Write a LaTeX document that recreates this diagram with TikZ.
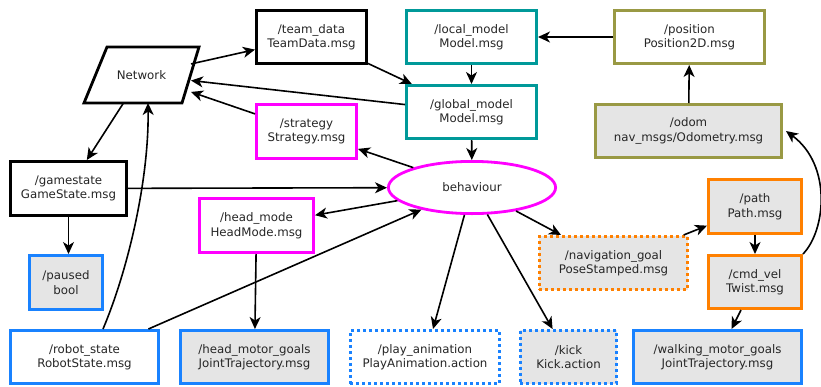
\documentclass[tikz,border=0pt]{standalone}
\usepackage{fontspec}
\setmainfont{DejaVu Sans}
\usetikzlibrary{shapes.geometric,arrows.meta}
\definecolor{cteal}{RGB}{0,153,153}
\definecolor{colive}{RGB}{153,153,68}
\definecolor{cmag}{RGB}{255,0,255}
\definecolor{cblue}{RGB}{25,130,255}
\definecolor{corange}{RGB}{255,128,0}
\definecolor{cgray}{RGB}{229,229,229}
\begin{document}
\begin{tikzpicture}[x=1pt,y=-1pt,
  txt/.style={font=\fontsize{11.8}{14.5}\selectfont, text=black!85},
  box/.style={txt, draw, line width=2.8pt, inner sep=0pt, minimum height=53.2pt, align=center, fill=white},
  gbox/.style={box, fill=cgray},
  dotbox/.style={dash pattern=on 3pt off 3pt},
  arr/.style={line width=1.6pt, -{Stealth[length=12pt,width=11pt,inset=3.5pt]}},
]
\useasboundingbox (0,0) rectangle (821,386);

% Network parallelogram
\coordinate (n1) at (107,47);
\coordinate (n2) at (199,47);
\coordinate (n3) at (182,103);
\coordinate (n4) at (84,103);
\draw[line width=2.8pt, line join=miter, fill=white] (n1) -- (n2) -- (n3) -- (n4) -- cycle;
\node[txt, inner sep=0pt, outer sep=0pt, minimum width=99pt, minimum height=56pt] (net) at (141.5,75) {Network};

% nodes
\node[box, minimum width=110.2pt] (team) at (311.5,37) {/team\_data\\TeamData.msg};
\node[box, draw=cteal, minimum width=130.2pt] (local) at (471.5,37) {/local\_model\\Model.msg};
\node[box, draw=cteal, minimum width=130.2pt] (global) at (471.5,112) {/global\_model\\Model.msg};
\node[box, draw=colive, minimum width=150.2pt] (pos) at (689.5,37) {/position\\Position2D.msg};
\node[gbox, draw=colive, minimum width=186.2pt] (odom) at (688.5,131) {/odom\\nav\_msgs/Odometry.msg};
\node[box, draw=cmag, minimum width=100.2pt, minimum height=54.2pt] (strat) at (306.5,131.5) {/strategy\\Strategy.msg};
\node[box, minimum width=116.2pt, minimum height=54.2pt] (gs) at (68.5,188.5) {/gamestate\\GameState.msg};
\node[txt, ellipse, draw=cmag, line width=2.8pt, fill=white, inner sep=0pt, minimum width=167.2pt, minimum height=52.2pt] (beh) at (472,187.5) {behaviour};
\node[box, draw=cmag, minimum width=114.2pt, minimum height=54.2pt] (hm) at (256.5,225.5) {/head\_mode\\HeadMode.msg};
\node[gbox, draw=cblue, minimum width=73.2pt, minimum height=54.2pt] (paused) at (66,282.5) {/paused\\bool};
\node[gbox, draw=corange, minimum width=93.2pt, minimum height=54.2pt] (path) at (755,206.5) {/path\\Path.msg};
\node[gbox, draw=corange, minimum width=93.2pt] (cv) at (755,282) {/cmd\_vel\\Twist.msg};
\node[gbox, draw=corange, dotbox, minimum width=148.2pt] (nav) at (613.5,263) {/navigation\_goal\\PoseStamped.msg};
\node[box, draw=cblue, minimum width=148.2pt] (rs) at (84.5,357) {/robot\_state\\RobotState.msg};
\node[gbox, draw=cblue, minimum width=148.2pt] (hmg) at (254.5,357) {/head\_motor\_goals\\JointTrajectory.msg};
\node[box, draw=cblue, dotbox, minimum width=149.2pt] (pa) at (425,357) {/play\_animation\\PlayAnimation.action};
\node[gbox, draw=cblue, dotbox, minimum width=96.2pt] (kick) at (568.5,357) {/kick\\Kick.action};
\node[gbox, draw=cblue, minimum width=168.2pt] (wmg) at (717.5,357) {/walking\_motor\_goals\\JointTrajectory.msg};

% connectors
\draw[arr] (net) -- (team);
\draw[arr] (team) -- (global);
\draw[arr] (global) -- (net);
\draw[arr] (strat) -- (net);
\draw[arr] (beh) -- (strat);
\draw[arr] (net) -- (gs);
\draw[arr] (gs) -- (beh);
\draw[arr] (gs.south) -- (gs.south |- paused.north);
\draw[arr] ([xshift=18.5pt]rs.north) .. controls (128,270) and (149,180) .. ([xshift=6.5pt]net.south);
\draw[arr] (rs) -- (beh);
\draw[arr] (beh) -- (hm);
\draw[arr] (hm) -- (hmg);
\draw[arr] (local) -- (global);
\draw[arr] (global) -- (beh);
\draw[arr] (pos) -- (local);
\draw[arr] (odom) -- (pos);
\draw[arr] (beh) -- ([xshift=8pt]pa.north);
\draw[arr] (beh) -- (kick);
\draw[arr] (beh) -- (nav);
\draw[arr] (nav) -- (path);
\draw[arr] (path) -- (cv);
\draw[arr] (cv.north east) .. controls (826,230) and (832,165) .. ([xshift=3pt]odom.east);
\draw[arr] (cv) -- (wmg);
\end{tikzpicture}
\end{document}
